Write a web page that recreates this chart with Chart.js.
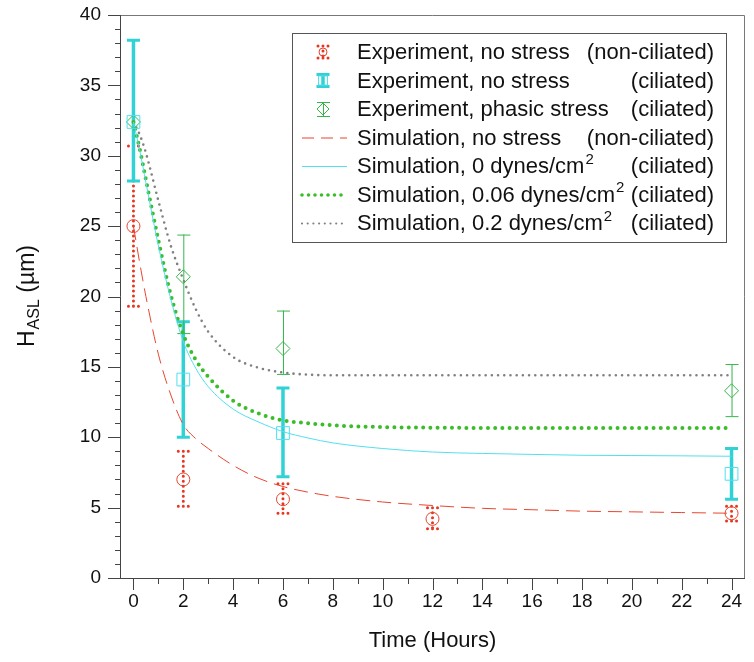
<!DOCTYPE html>
<html>
<head>
<meta charset="utf-8">
<script src="https://cdn.jsdelivr.net/npm/chart.js@4.4.1/dist/chart.umd.min.js"></script>
<style>
  html, body { margin: 0; padding: 0; background: #fff; }
  #wrap { width: 754px; height: 662px; }
</style>
</head>
<body>
<div id="wrap"><canvas id="chart" width="754" height="662"></canvas></div>
<script>
// tick labels
const xTickValues = [0, 2, 4, 6, 8, 10, 12, 14, 16, 18, 20, 22, 24];
const yTickValues = [0, 5, 10, 15, 20, 25, 30, 35, 40];

// Experiment, no stress (non-ciliated)
const ncTime = [0, 2, 6, 12, 24];
const ncMean = [25.0, 7.0, 5.6, 4.2, 4.6];
const ncLow = [19.3, 5.1, 4.6, 3.5, 4.05];
const ncHigh = [30.7, 9.0, 6.7, 5.0, 5.1];

// Experiment, no stress (ciliated)
const cilTime = [0, 2, 6, 24];
const cilMean = [32.4, 14.1, 10.3, 7.4];
const cilLow = [28.2, 10.0, 7.2, 5.6];
const cilHigh = [38.2, 18.2, 13.5, 9.2];

// Experiment, phasic stress (ciliated)
const phTime = [0, 2, 6, 24];
const phMean = [32.4, 21.4, 16.3, 13.3];
const phLow = [32.4, 17.4, 14.5, 11.5];
const phHigh = [32.4, 24.4, 19.0, 15.2];

// Simulations
const simTime = [0, 0.25, 0.5, 1, 1.5, 2, 2.5, 3, 4, 5, 6, 7, 8, 10, 12, 14, 16, 18, 20, 22, 24];
const simNoStress = [25.0, 22.4, 20.0, 15.9, 13.0, 10.9, 9.9, 9.2, 8.0, 7.1, 6.5, 6.1, 5.8, 5.4, 5.15, 4.95, 4.85, 4.75, 4.7, 4.65, 4.6];
const sim0 = [32.4, 30.4, 28.1, 23.6, 19.8, 16.8, 14.9, 13.6, 12.0, 11.1, 10.4, 9.95, 9.6, 9.2, 8.95, 8.85, 8.78, 8.72, 8.7, 8.68, 8.65];
const sim006 = [32.4, 30.5, 28.3, 24.0, 20.1, 17.3, 15.5, 14.3, 12.6, 11.7, 11.2, 11.0, 10.85, 10.72, 10.68, 10.66, 10.65, 10.65, 10.65, 10.65, 10.65];
const sim02 = [32.4, 31.5, 30.2, 26.8, 23.6, 21.2, 19.1, 17.5, 15.7, 14.95, 14.6, 14.45, 14.4, 14.4, 14.4, 14.4, 14.4, 14.4, 14.4, 14.4, 14.4];

// legend texts
const legendMain = [
  "Experiment, no stress",
  "Experiment, no stress",
  "Experiment, phasic stress",
  "Simulation, no stress",
  "Simulation, 0 dynes/cm",
  "Simulation, 0.06 dynes/cm",
  "Simulation, 0.2 dynes/cm"
];
const legendSup = ["", "", "", "", "2", "2", "2"];
const legendTail = ["(non-ciliated)", "(ciliated)", "(ciliated)", "(non-ciliated)", "(ciliated)", "(ciliated)", "(ciliated)"];

const FONT = '"Liberation Sans", Arial, Helvetica, sans-serif';
const RED = "#e8452f";
const RED_DOT = "#e6361f";
const CYAN_BAR = "#30d2d6";
const CYAN = "#52dff0";
const GREEN = "#3bbd2a";
const GREEN_EXP = "#35b54a";
const GRAY = "#808080";

function toXY(xs, ys) {
  return xs.map((x, i) => ({ x: x, y: ys[i] }));
}

// error bars, drawn with the chart's own scales
const errorBars = [
  { time: ncTime, low: ncLow, high: ncHigh, kind: "dotted" },
  { time: cilTime, low: cilLow, high: cilHigh, kind: "thick" },
  { time: phTime, low: phLow, high: phHigh, kind: "thin" }
];

function drawBar(ctx, x, yTop, yBot, kind) {
  ctx.save();
  if (kind === "dotted") {
    ctx.strokeStyle = RED_DOT;
    ctx.lineWidth = 3;
    ctx.lineCap = "round";
    ctx.setLineDash([0, 5]);
    ctx.beginPath();
    ctx.moveTo(x, yTop); ctx.lineTo(x, yBot);
    ctx.moveTo(x - 5, yTop); ctx.lineTo(x + 5.5, yTop);
    ctx.moveTo(x - 5, yBot); ctx.lineTo(x + 5.5, yBot);
    ctx.stroke();
  } else if (kind === "thick") {
    ctx.strokeStyle = CYAN_BAR;
    ctx.lineWidth = 3.5;
    ctx.beginPath();
    ctx.moveTo(x, yTop); ctx.lineTo(x, yBot);
    ctx.stroke();
    ctx.lineWidth = 3;
    ctx.beginPath();
    ctx.moveTo(x - 6.5, yTop); ctx.lineTo(x + 6.5, yTop);
    ctx.moveTo(x - 6.5, yBot); ctx.lineTo(x + 6.5, yBot);
    ctx.stroke();
  } else {
    if (yBot - yTop < 1) { ctx.restore(); return; }
    ctx.strokeStyle = GREEN_EXP;
    ctx.lineWidth = 1;
    ctx.beginPath();
    ctx.moveTo(x + 0.5, yTop); ctx.lineTo(x + 0.5, yBot);
    ctx.moveTo(x - 6, yTop + 0.5); ctx.lineTo(x + 7, yTop + 0.5);
    ctx.moveTo(x - 6, yBot + 0.5); ctx.lineTo(x + 7, yBot + 0.5);
    ctx.stroke();
  }
  ctx.restore();
}

const errorBarPlugin = {
  id: "errorBars",
  beforeDatasetsDraw(chart) {
    const { ctx, scales: { x, y } } = chart;
    errorBars.forEach((g) => {
      g.time.forEach((t, i) => {
        drawBar(ctx, x.getPixelForValue(t), y.getPixelForValue(g.high[i]), y.getPixelForValue(g.low[i]), g.kind);
      });
    });
  }
};

// frame + major/minor ticks
const framePlugin = {
  id: "frame",
  beforeDatasetsDraw(chart) {
    const { ctx, chartArea: a, scales: { x, y } } = chart;
    ctx.save();
    ctx.lineWidth = 1;
    ctx.strokeStyle = "#777";
    ctx.beginPath();
    ctx.moveTo(a.left, a.top + 0.5); ctx.lineTo(a.right + 0.5, a.top + 0.5);
    ctx.lineTo(a.right + 0.5, a.bottom);
    ctx.stroke();
    ctx.strokeStyle = "#444";
    ctx.beginPath();
    ctx.moveTo(a.left - 0.5, a.top); ctx.lineTo(a.left - 0.5, a.bottom + 0.5);
    ctx.lineTo(a.right + 1, a.bottom + 0.5);
    for (let v = 0; v <= 40; v++) {
      const py = Math.round(y.getPixelForValue(v)) + 0.5;
      const len = v % 5 === 0 ? 13 : 6;
      ctx.moveTo(a.left - len, py); ctx.lineTo(a.left, py);
    }
    for (let v = 0; v <= 24; v++) {
      const px = Math.round(x.getPixelForValue(v)) + 0.5;
      const len = v % 2 === 0 ? 12 : 6;
      ctx.moveTo(px, a.bottom); ctx.lineTo(px, a.bottom + len);
    }
    ctx.stroke();
    ctx.restore();
  }
};

function richText(ctx, x, y, main, sup, size) {
  ctx.font = size + "px " + FONT;
  ctx.fillText(main, x, y);
  if (sup) {
    const w = ctx.measureText(main).width;
    ctx.font = Math.round(size * 0.68) + "px " + FONT;
    ctx.fillText(sup, x + w + 1, y - size * 0.42);
  }
}

function legendSymbol(ctx, i, cx, cy) {
  ctx.save();
  if (i === 0) {
    drawBar(ctx, cx, cy - 6, cy + 6, "dotted");
    ctx.strokeStyle = RED; ctx.lineWidth = 1;
    ctx.beginPath(); ctx.arc(cx, cy, 4, 0, Math.PI * 2); ctx.stroke();
  } else if (i === 1) {
    drawBar(ctx, cx, cy - 6, cy + 6, "thick");
    ctx.strokeStyle = CYAN; ctx.lineWidth = 1;
    ctx.strokeRect(cx - 4.5, cy - 4.5, 9, 9);
  } else if (i === 2) {
    drawBar(ctx, cx, cy - 7, cy + 7, "thin");
    ctx.strokeStyle = GREEN_EXP; ctx.lineWidth = 1;
    ctx.beginPath();
    ctx.moveTo(cx - 6, cy); ctx.lineTo(cx, cy - 6); ctx.lineTo(cx + 6, cy); ctx.lineTo(cx, cy + 6); ctx.closePath();
    ctx.stroke();
  } else {
    const ds = [null, null, null,
      { c: RED, w: 1, d: [12, 7], cap: "butt" },
      { c: CYAN, w: 1, d: [], cap: "butt" },
      { c: GREEN, w: 3.6, d: [0, 6.5], cap: "round" },
      { c: GRAY, w: 2.2, d: [0, 5.7], cap: "round" }][i];
    ctx.strokeStyle = ds.c; ctx.lineWidth = ds.w; ctx.setLineDash(ds.d); ctx.lineCap = ds.cap;
    ctx.beginPath(); ctx.moveTo(302, cy + 0.5); ctx.lineTo(347, cy + 0.5); ctx.stroke();
  }
  ctx.restore();
}

const legendPlugin = {
  id: "boxLegend",
  afterDraw(chart) {
    const ctx = chart.ctx;
    ctx.save();
    ctx.fillStyle = "#fff";
    ctx.fillRect(292, 33, 435, 209);
    ctx.strokeStyle = "#555";
    ctx.lineWidth = 1;
    ctx.strokeRect(292.5, 33.5, 434, 209);
    ctx.fillStyle = "#111";
    ctx.textBaseline = "alphabetic";
    for (let i = 0; i < legendMain.length; i++) {
      const base = 59 + i * 28.5;
      legendSymbol(ctx, i, 323, base - 7);
      ctx.fillStyle = "#111";
      ctx.textAlign = "left";
      richText(ctx, 357, base, legendMain[i], legendSup[i], 22);
      ctx.font = "22px " + FONT;
      ctx.textAlign = "right";
      ctx.fillText(legendTail[i], 714, base);
    }
    ctx.restore();
  }
};

// axis titles (with subscript)
const titlePlugin = {
  id: "axisTitles",
  afterDraw(chart) {
    const { ctx, chartArea: a } = chart;
    ctx.save();
    ctx.fillStyle = "#111";
    ctx.textBaseline = "alphabetic";
    ctx.textAlign = "center";
    ctx.font = "22px " + FONT;
    ctx.fillText("Time (Hours)", (a.left + a.right) / 2, 647);

    ctx.translate(34, (a.top + a.bottom) / 2);
    ctx.rotate(-Math.PI / 2);
    ctx.textAlign = "left";
    const big = "23px " + FONT, small = "16px " + FONT;
    ctx.font = big; const wH = ctx.measureText("H").width;
    ctx.font = small; const wS = ctx.measureText("ASL").width;
    ctx.font = big; const wU = ctx.measureText(" (µm)").width;
    let x0 = -(wH + wS + wU) / 2;
    ctx.font = big; ctx.fillText("H", x0, 0);
    ctx.font = small; ctx.fillText("ASL", x0 + wH + 1, 5);
    ctx.font = big; ctx.fillText(" (µm)", x0 + wH + wS + 1, 0);
    ctx.restore();
  }
};

function noPad(s) {
  s.paddingTop = 0;
  s.paddingBottom = 0;
  s.paddingLeft = 0;
  s.paddingRight = 0;
}

const datasets = [
  {
    label: "Experiment, no stress (non-ciliated)",
    data: toXY(ncTime, ncMean),
    showLine: false,
    pointStyle: "circle",
    pointRadius: 6.5,
    pointBorderWidth: 1,
    pointBorderColor: RED,
    pointBackgroundColor: "rgba(0,0,0,0)",
    order: 1
  },
  {
    label: "Experiment, no stress (ciliated)",
    data: toXY(cilTime, cilMean),
    showLine: false,
    pointStyle: "rect",
    pointRadius: 9,
    pointBorderWidth: 1,
    pointBorderColor: CYAN,
    pointBackgroundColor: "rgba(0,0,0,0)",
    order: 1
  },
  {
    label: "Experiment, phasic stress (ciliated)",
    data: toXY(phTime, phMean),
    showLine: false,
    pointStyle: "rectRot",
    pointRadius: 7,
    pointBorderWidth: 1,
    pointBorderColor: GREEN_EXP,
    pointBackgroundColor: "rgba(0,0,0,0)",
    order: 1
  },
  {
    label: "Simulation, no stress (non-ciliated)",
    data: toXY(simTime, simNoStress),
    borderColor: RED,
    borderWidth: 1,
    borderDash: [14, 7],
    pointRadius: 0,
    cubicInterpolationMode: "monotone",
    order: 2
  },
  {
    label: "Simulation, 0 dynes/cm2 (ciliated)",
    data: toXY(simTime, sim0),
    borderColor: CYAN,
    borderWidth: 1,
    pointRadius: 0,
    cubicInterpolationMode: "monotone",
    order: 2
  },
  {
    label: "Simulation, 0.06 dynes/cm2 (ciliated)",
    data: toXY(simTime, sim006),
    borderColor: GREEN,
    borderWidth: 4,
    borderDash: [0, 7.2],
    borderCapStyle: "round",
    pointRadius: 0,
    cubicInterpolationMode: "monotone",
    order: 2
  },
  {
    label: "Simulation, 0.2 dynes/cm2 (ciliated)",
    data: toXY(simTime, sim02),
    borderColor: GRAY,
    borderWidth: 2.6,
    borderDash: [0, 6.2],
    borderCapStyle: "round",
    pointRadius: 0,
    cubicInterpolationMode: "monotone",
    order: 2
  }
];

new Chart(document.getElementById("chart"), {
  type: "line",
  data: { datasets: datasets },
  options: {
    responsive: false,
    animation: false,
    devicePixelRatio: 1,
    layout: { padding: { top: 15, right: 9, left: 0, bottom: 0 } },
    plugins: { legend: { display: false }, tooltip: { enabled: false } },
    scales: {
      x: {
        type: "linear",
        min: -0.5,
        max: 24.5,
        afterBuildTicks: (s) => { s.ticks = xTickValues.map((v) => ({ value: v })); },
        afterFit: (s) => { s.height = 84; noPad(s); },
        grid: { display: false, drawTicks: false },
        border: { display: false },
        ticks: { font: { family: FONT, size: 19 }, color: "#111", padding: 12, maxRotation: 0 }
      },
      y: {
        type: "linear",
        min: 0,
        max: 40,
        afterBuildTicks: (s) => { s.ticks = yTickValues.map((v) => ({ value: v })); },
        afterFit: (s) => { s.width = 121; noPad(s); },
        grid: { display: false, drawTicks: false },
        border: { display: false },
        ticks: { font: { family: FONT, size: 19 }, color: "#111", padding: 20 }
      }
    }
  },
  plugins: [framePlugin, errorBarPlugin, legendPlugin, titlePlugin]
});
</script>
</body>
</html>
